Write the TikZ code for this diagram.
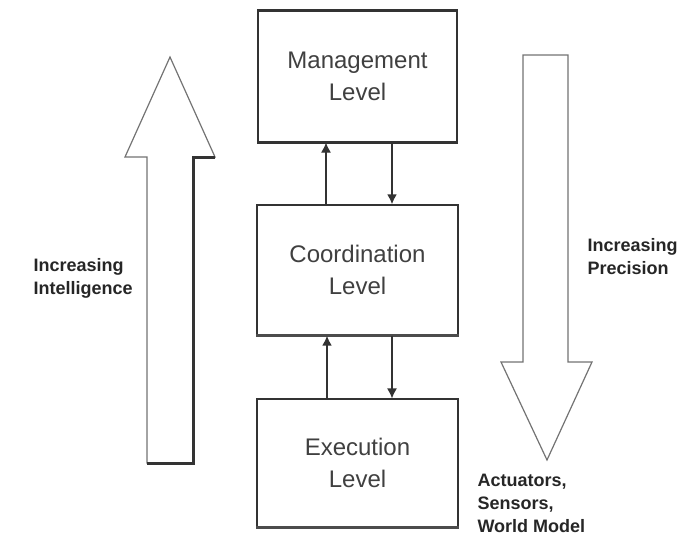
\documentclass[tikz,border=0pt]{standalone}
\usepackage{fontspec}
\setmainfont{Liberation Sans}
\usetikzlibrary{arrows.meta}

\tikzset{
    levelbox/.style={draw=black!80, line width=1.2pt, fill=white, align=center,
        font=\fontsize{24}{32}\selectfont, text=black!75},
    sidelabel/.style={align=left, anchor=west, font=\fontsize{18}{23}\selectfont\bfseries, text=black!85},
    link/.style={-{Latex[length=10pt, width=10pt]}, line width=1.2pt, black!80},
    bigarrow/.style={draw=black!55, line width=1.2pt, fill=white}
}

\begin{document}
\begin{tikzpicture}[x=1pt, y=-1pt]
    \useasboundingbox (0,0) rectangle (697,557);

    % Draw the three levels
    \node[levelbox, minimum width=199pt, minimum height=131pt] (mgmt) at (357.5,76.5) {Management\\Level};
    \node[levelbox, minimum width=201pt, minimum height=130pt] (coord) at (357.5,270) {Coordination\\Level};
    \node[levelbox, minimum width=201pt, minimum height=128pt] (exec) at (357.5,463) {Execution\\Level};

    % Heavier lower edges
    \draw[line width=3pt, black!80] (mgmt.south west) -- (mgmt.south east);
    \draw[line width=3pt, black!80] (mgmt.north west) -- (mgmt.north east);
    \draw[line width=2.5pt, black!70] (coord.south west) -- (coord.south east);
    \draw[line width=2.5pt, black!70] (exec.south west) -- (exec.south east);

    % Links between levels
    \draw[link] ([xshift=-31.5pt]coord.north) -- ([xshift=-31.5pt]mgmt.south);
    \draw[link, line width=2pt] ([xshift=34.5pt]mgmt.south) -- ([xshift=34.5pt]coord.north);
    \draw[link, line width=2pt] ([xshift=-30.5pt]exec.north) -- ([xshift=-30.5pt]coord.south);
    \draw[link] ([xshift=34.5pt]coord.south) -- ([xshift=34.5pt]exec.north);

    % Upward arrow on the left
    \draw[bigarrow] (147,463) -- (147,157) -- (125,157) -- (170,57) -- (215,157)
        -- (193,157) -- (193,463) -- cycle;
    \draw[line width=3pt, black!80] (215,157) -- (193,157) -- (193,463) -- (147,463);

    % Downward arrow on the right
    \draw[bigarrow] (523,55) -- (523,362) -- (501,362) -- (547,460) -- (592,362)
        -- (568,362) -- (568,55) -- cycle;

    % Labels beside the arrows
    \node[sidelabel] (intel) at (30,278) {Increasing\\Intelligence};
    \node[sidelabel] (prec) at (584,257) {Increasing\\Precision};
    \node[sidelabel] (world) at (474,503) {Actuators,\\Sensors,\\World Model};
\end{tikzpicture}
\end{document}
